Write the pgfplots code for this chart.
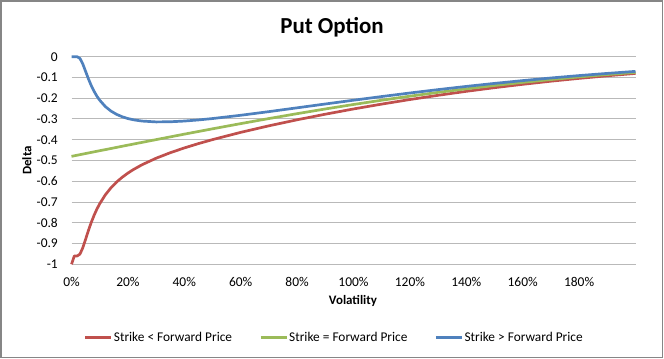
\documentclass[border=0pt]{standalone}
\usepackage{pgfplots}
\pgfplotsset{compat=1.18}
\usepackage{pgfplotstable}
\usepackage{fontspec}
\setmainfont{Carlito}
\definecolor{cRed}{RGB}{192,80,77}
\definecolor{cGreen}{RGB}{155,187,89}
\definecolor{cBlue}{RGB}{79,129,189}
\definecolor{cGrid}{RGB}{185,185,185}
\definecolor{cBorder}{RGB}{134,134,134}

\pgfplotstableread{
x y
0 -1.0000
1 -0.9600
2 -0.9598
3 -0.9507
4 -0.9206
5 -0.8794
6 -0.8371
7 -0.7983
8 -0.7642
9 -0.7343
10 -0.7083
12 -0.6653
14 -0.6314
16 -0.6036
18 -0.5805
20 -0.5606
22 -0.5432
25 -0.5205
30 -0.4890
35 -0.4626
40 -0.4395
45 -0.4186
50 -0.3994
60 -0.3644
70 -0.3329
80 -0.3039
90 -0.2770
100 -0.2517
110 -0.2283
120 -0.2063
130 -0.1859
140 -0.1668
150 -0.1492
160 -0.1330
170 -0.1180
180 -0.1044
190 -0.0919
200 -0.0806
}\redtable

\pgfplotstableread{
x y
0 -0.4800
10 -0.4529
20 -0.4260
30 -0.3994
40 -0.3731
50 -0.3474
60 -0.3223
70 -0.2979
80 -0.2744
90 -0.2517
100 -0.2302
110 -0.2096
120 -0.1902
130 -0.1718
140 -0.1547
150 -0.1386
160 -0.1237
170 -0.1101
180 -0.0974
190 -0.0859
200 -0.0756
}\greentable

\pgfplotstableread{
x y
0 0.0000
1 0.0000
2 -0.0002
3 -0.0084
4 -0.0348
5 -0.0706
6 -0.1066
7 -0.1389
8 -0.1665
9 -0.1900
10 -0.2096
12 -0.2401
14 -0.2620
16 -0.2778
18 -0.2894
20 -0.2979
22 -0.3040
25 -0.3100
30 -0.3141
35 -0.3134
40 -0.3100
45 -0.3046
50 -0.2979
60 -0.2821
70 -0.2646
80 -0.2462
90 -0.2278
100 -0.2096
110 -0.1919
120 -0.1748
130 -0.1585
140 -0.1431
150 -0.1286
160 -0.1151
170 -0.1025
180 -0.0909
190 -0.0804
200 -0.0706
}\bluetable

\begin{document}
\begin{tikzpicture}
\path[use as bounding box] (0,0) rectangle (664bp,-359bp);
\draw[cBorder, line width=1.5bp] (1.2bp,-1.2bp) rectangle (662.3bp,-357.3bp);
\node[anchor=base, inner sep=0pt] at (332bp,-33.3bp) {\fontsize{23}{28}\selectfont\bfseries Put Option};
\begin{axis}[
  at={(71.5bp,-264.3bp)}, anchor=south west,
  scale only axis, width=564bp, height=207.6bp,
  xmin=0, xmax=200, ymin=-1, ymax=0,
  clip=false,
  axis line style={draw=none},
  major tick length=0pt,
  ymajorgrids=true,
  major grid style={cGrid, line width=1bp},
  xtick={0,20,40,60,80,100,120,140,160,180},
  xticklabels={0\%,20\%,40\%,60\%,80\%,100\%,120\%,140\%,160\%,180\%},
  ytick={-1,-0.9,-0.8,-0.7,-0.6,-0.5,-0.4,-0.3,-0.2,-0.1,0},
  yticklabels={-1,-0.9,-0.8,-0.7,-0.6,-0.5,-0.4,-0.3,-0.2,-0.1,0},
  tick label style={font=\fontsize{13.5}{16}\selectfont, inner sep=0pt},
  xticklabel style={anchor=base, yshift=-21.7bp},
  yticklabel style={anchor=east, xshift=-13.5bp},
  legend style={draw=none, fill=none, at={(axis description cs:0.4654,-0.3536)}, anchor=center,
    font=\fontsize{13.4}{16}\selectfont, inner sep=0pt,
    nodes={inner sep=1.2bp},
    /tikz/every even column/.append style={column sep=26bp}},
  legend columns=3,
  legend cell align=left,
  legend image code/.code={\draw[#1] (0bp,0bp) -- (26bp,0bp);},
]
\addplot[cRed, line width=2.7bp, line join=round] table {\redtable};
\addlegendentry{Strike < Forward Price}
\addplot[cGreen, line width=2.7bp, line join=round] table {\greentable};
\addlegendentry{Strike = Forward Price}
\addplot[cBlue, line width=2.7bp, line join=round] table {\bluetable};
\addlegendentry{Strike > Forward Price}
\end{axis}
\node[anchor=base, inner sep=0pt] at (353bp,-304.3bp) {\fontsize{13}{15}\selectfont\bfseries Volatility};
\node[rotate=90, anchor=center, inner sep=0pt] at (27bp,-160.5bp) {\fontsize{13}{15}\selectfont\bfseries Delta};
\end{tikzpicture}
\end{document}
